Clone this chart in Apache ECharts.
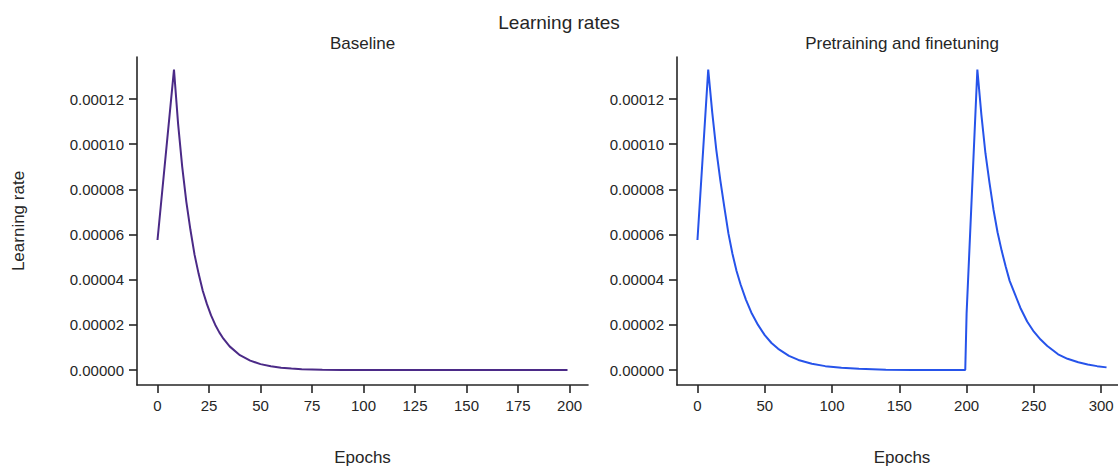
<!DOCTYPE html>
<html><head><meta charset="utf-8">
<script src="https://cdn.jsdelivr.net/npm/echarts@6/dist/echarts.min.js"></script>
<style>html,body{margin:0;padding:0;background:#fff}#c{width:1118px;height:466px}</style>
</head><body><div id="c"></div>
<script>
// ---- data ----
const baseEpochs = [0, 8, 10, 12, 14, 16, 18, 20, 22, 24, 26, 28, 30, 32, 35, 40, 45, 50, 55, 60, 65, 70, 80, 90, 100, 125, 150, 175, 199];
const baseLR = [5.76e-5, 1.33e-4, 1.09e-4, 9.0e-5, 7.45e-5, 6.2e-5, 5.1e-5, 4.25e-5, 3.5e-5, 2.92e-5, 2.42e-5, 2.01e-5, 1.67e-5, 1.39e-5, 1.05e-5, 6.6e-6, 4.2e-6, 2.65e-6, 1.68e-6, 1.06e-6, 6.6e-7, 4.2e-7, 1.6e-7, 6e-8, 2.5e-8, 3e-9, 0, 0, 0];

const ptEpochs = [0, 8, 11, 14, 17, 20, 23, 26, 29, 32, 36, 40, 45, 50, 55, 60, 68, 75, 85, 95, 107, 120, 140, 160, 180, 199,
                  200, 208, 211, 214, 217, 220, 223, 226, 229, 232, 236, 240, 245, 250, 255, 260, 268, 275, 283, 290, 297, 304];
const ptLR = [5.76e-5, 1.33e-4, 1.14e-4, 9.75e-5, 8.4e-5, 7.2e-5, 6.05e-5, 5.15e-5, 4.4e-5, 3.8e-5, 3.12e-5, 2.55e-5, 2.0e-5, 1.55e-5, 1.2e-5, 9.4e-6, 6.3e-6, 4.5e-6, 2.8e-6, 1.75e-6, 1.05e-6, 5.5e-7, 2.0e-7, 7e-8, 2.5e-8, 1e-8,
              2.5e-5, 1.33e-4, 1.13e-4, 9.6e-5, 8.3e-5, 7.1e-5, 6.1e-5, 5.3e-5, 4.6e-5, 3.95e-5, 3.35e-5, 2.75e-5, 2.15e-5, 1.7e-5, 1.35e-5, 1.07e-5, 7.0e-6, 5.0e-6, 3.5e-6, 2.5e-6, 1.75e-6, 1.2e-6];

const baseXTicks = [0, 25, 50, 75, 100, 125, 150, 175, 200];
const ptXTicks = [0, 50, 100, 150, 200, 250, 300];
const yTicks = [0, 0.00002, 0.00004, 0.00006, 0.00008, 0.00010, 0.00012];

const mainTitle = 'Learning rates';
const subTitles = ['Baseline', 'Pretraining and finetuning'];
const xName = 'Epochs';
const yName = 'Learning rate';

// ---- styling ----
const FONT = '"Liberation Sans", Arial, Helvetica, sans-serif';
const INK = '#262626';
const axisLine = { show: true, onZero: false, lineStyle: { color: INK, width: 1.6 } };

function xAxisCfg(idx, min, max, ticks) {
  return {
    type: 'value', gridIndex: idx, min: min, max: max,
    axisLine: axisLine,
    axisTick: { show: true, length: 8, customValues: ticks, lineStyle: { color: INK, width: 1.6 } },
    axisLabel: { customValues: ticks, margin: 13, color: INK, fontSize: 15, fontFamily: FONT },
    splitLine: { show: false },
    name: xName, nameLocation: 'middle', nameGap: 64,
    nameTextStyle: { color: INK, fontSize: 17, fontFamily: FONT }
  };
}
function yAxisCfg(idx, withName) {
  const c = {
    type: 'value', gridIndex: idx, min: -6.6e-6, max: 1.386e-4,
    axisLine: axisLine,
    axisTick: { show: true, length: 8, customValues: yTicks, lineStyle: { color: INK, width: 1.6 } },
    axisLabel: { customValues: yTicks, margin: 13, color: INK, fontSize: 15, fontFamily: FONT,
                 formatter: v => Number(v).toFixed(5) },
    splitLine: { show: false }
  };
  if (withName) {
    c.name = yName; c.nameLocation = 'middle'; c.nameGap = 110;
    c.nameTextStyle = { color: INK, fontSize: 17, fontFamily: FONT };
  }
  return c;
}

const chart = echarts.init(document.getElementById('c'), null, { renderer: 'svg' });
chart.setOption({
  animation: false,
  backgroundColor: '#ffffff',
  title: [
    { text: mainTitle, left: 'center', top: 13, padding: 0,
      textStyle: { color: INK, fontSize: 19, fontWeight: 'normal', fontFamily: FONT } },
    { text: subTitles[0], left: 362.5, top: 35, padding: 0, textAlign: 'center',
      textStyle: { color: INK, fontSize: 17, fontWeight: 'normal', fontFamily: FONT } },
    { text: subTitles[1], left: 902, top: 35, padding: 0, textAlign: 'center',
      textStyle: { color: INK, fontSize: 17, fontWeight: 'normal', fontFamily: FONT } }
  ],
  grid: [
    { left: 137, right: 530, top: 57, bottom: 81, containLabel: false, outerBoundsMode: 'none' },
    { left: 677, right: -9, top: 57, bottom: 81, containLabel: false, outerBoundsMode: 'none' }
  ],
  xAxis: [xAxisCfg(0, -9.95, 208.95, baseXTicks), xAxisCfg(1, -15.2, 319.2, ptXTicks)],
  yAxis: [yAxisCfg(0, true), yAxisCfg(1, false)],
  series: [
    { type: 'line', xAxisIndex: 0, yAxisIndex: 0, showSymbol: false, silent: true,
      data: baseEpochs.map((e, i) => [e, baseLR[i]]),
      lineStyle: { color: '#4b2a87', width: 2 }, itemStyle: { color: '#4b2a87' } },
    { type: 'line', xAxisIndex: 1, yAxisIndex: 1, showSymbol: false, silent: true,
      data: ptEpochs.map((e, i) => [e, ptLR[i]]),
      lineStyle: { color: '#2653ea', width: 2 }, itemStyle: { color: '#2653ea' } }
  ]
});
</script>
</body></html>
